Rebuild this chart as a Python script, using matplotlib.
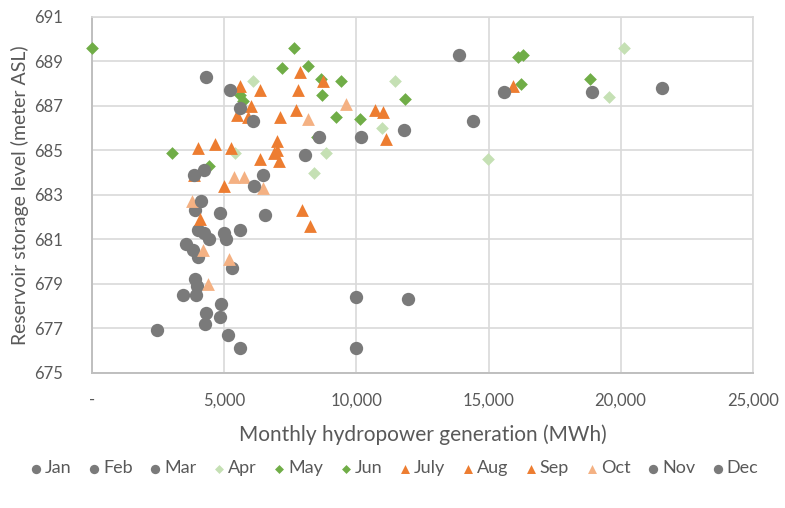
import matplotlib
matplotlib.use("Agg")
import matplotlib.pyplot as plt
from matplotlib.ticker import FuncFormatter

# monthly hydropower generation (MWh) vs reservoir storage level (m ASL), one list per month
jan_x = [3870, 4820, 6520, 3990, 4210, 4400, 4970, 5080, 5610]
jan_y = [682.3, 682.2, 682.1, 681.4, 681.3, 681.0, 681.3, 681.0, 681.4]
feb_x = [3530, 3800, 3990, 5270, 3870, 3950, 10000, 11970, 3910]
feb_y = [680.8, 680.5, 680.2, 679.7, 679.2, 678.9, 678.4, 678.3, 678.5]
mar_x = [3420, 4860, 4290, 4820, 4250, 2440, 5120, 5610, 10000]
mar_y = [678.5, 678.1, 677.7, 677.5, 677.2, 676.9, 676.7, 676.1, 676.1]
apr_x = [6070, 11470, 20130, 19560, 10980, 14990, 8830, 8380, 5390]
apr_y = [688.1, 688.1, 689.6, 687.4, 686.0, 684.6, 684.9, 684.0, 684.9]
may_x = [3000, 4400, 5600, 8520, 9240, 10150, 11850, 16240, 18850]
may_y = [684.9, 684.3, 687.5, 685.6, 686.5, 686.4, 687.3, 688.0, 688.2]
jun_x = [0, 7620, 7200, 8180, 8640, 9430, 8710, 16120, 16310, 5700]
jun_y = [689.6, 689.6, 688.7, 688.8, 688.2, 688.1, 687.5, 689.2, 689.3, 687.2]
jul_x = [7880, 8750, 7770, 15930, 5580, 6330, 7730, 10720, 11020]
jul_y = [688.5, 688.1, 687.7, 687.9, 687.9, 687.7, 686.8, 686.8, 686.7]
aug_x = [5990, 5460, 5880, 7090, 11130, 7010, 6860, 4630, 5240]
aug_y = [687.0, 686.6, 686.5, 686.5, 685.5, 685.4, 684.9, 685.3, 685.1]
sep_x = [3990, 6330, 7050, 4970, 3840, 4060, 7920, 8230, 7000]
sep_y = [685.1, 684.6, 684.5, 683.4, 683.9, 681.9, 682.3, 681.6, 685.0]
oct_x = [9620, 8180, 5350, 5730, 6480, 4180, 5160, 4370, 3760]
oct_y = [687.1, 686.4, 683.8, 683.8, 683.3, 680.5, 680.1, 679.0, 682.7]
nov_x = [13890, 15590, 18920, 21570, 4290, 5200, 5580, 6070, 14420]
nov_y = [689.3, 687.6, 687.6, 687.8, 688.3, 687.7, 686.9, 686.3, 686.3]
dec_x = [10190, 11810, 8070, 8600, 4210, 3840, 6480, 6140, 4100]
dec_y = [685.6, 685.9, 684.8, 685.6, 684.1, 683.9, 683.9, 683.4, 682.7]

months = ["Jan", "Feb", "Mar", "Apr", "May", "Jun", "July", "Aug", "Sep", "Oct", "Nov", "Dec"]
xs = [jan_x, feb_x, mar_x, apr_x, may_x, jun_x, jul_x, aug_x, sep_x, oct_x, nov_x, dec_x]
ys = [jan_y, feb_y, mar_y, apr_y, may_y, jun_y, jul_y, aug_y, sep_y, oct_y, nov_y, dec_y]

grey = "#7a7a7a"
colors = [grey, grey, grey, "#c5e0b4", "#70ad47", "#70ad47",
          "#ed7d31", "#ed7d31", "#ed7d31", "#f4b183", grey, grey]
markers = ["o", "o", "o", "D", "D", "D", "^", "^", "^", "^", "o", "o"]
sizes = {"o": 92, "D": 42, "^": 85}

plt.rcParams["font.family"] = ["Lato", "DejaVu Sans"]
text_col = "#595959"

fig = plt.figure(figsize=(7.85, 5.08), dpi=100)
ax = fig.add_axes([0.1176, 0.2663, 0.8412, 0.7006])

for i in range(len(months)):
    ax.scatter(xs[i], ys[i], s=sizes[markers[i]], marker=markers[i],
               color=colors[i], linewidths=0, label=months[i], zorder=3, clip_on=False)

ax.set_xlim(0, 25000)
ax.set_ylim(675, 691)
ax.set_xticks(range(0, 25001, 5000))
ax.set_yticks(range(675, 692, 2))
ax.xaxis.set_major_formatter(FuncFormatter(lambda v, p: "-" if v == 0 else "{:,.0f}".format(v)))

ax.grid(True, color="#d9d9d9", linewidth=1.2)
ax.set_axisbelow(True)
for side in ["top", "right"]:
    ax.spines[side].set_color("#d9d9d9")
    ax.spines[side].set_linewidth(1.2)
for side in ["left", "bottom"]:
    ax.spines[side].set_color("#bfbfbf")
    ax.spines[side].set_linewidth(1.4)
ax.tick_params(length=0, labelsize=12, labelcolor=text_col)
ax.tick_params(axis="y", pad=21)
ax.tick_params(axis="x", pad=14)

ax.set_xlabel("Monthly hydropower generation (MWh)", fontsize=15, color=text_col, labelpad=12)
ax.set_ylabel("Reservoir storage level (meter ASL)", fontsize=14, color=text_col, labelpad=4)

fig.legend(loc="center", bbox_to_anchor=(0.5, 0.078), ncol=12, frameon=False,
           fontsize=13, labelcolor=text_col, handletextpad=0.0, columnspacing=0.75,
           markerscale=0.7, handlelength=1.0)

fig.savefig("out.png", dpi=100)
